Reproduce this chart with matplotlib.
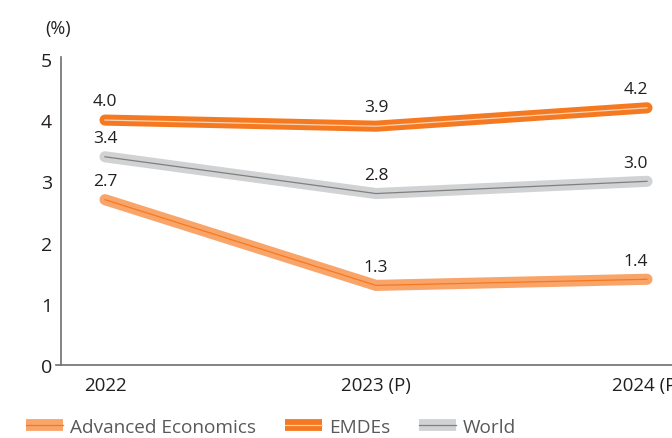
import matplotlib.pyplot as plt
from matplotlib.lines import Line2D
from matplotlib.legend_handler import HandlerTuple

plt.rcParams['font.family'] = ['Open Sans', 'DejaVu Sans']

years = ["2022", "2023 (P)", "2024 (P)"]
advanced = [2.7, 1.3, 1.4]
emdes = [4.0, 3.9, 4.2]
world = [3.4, 2.8, 3.0]

# (name, values, band colour, centre line colour)
series = [
    ("Advanced Economics", advanced, "#F9A56A", "#F47920"),
    ("EMDEs", emdes, "#F47920", "#FBD3B5"),
    ("World", world, "#D1D2D4", "#7F7F7F"),
]

fig = plt.figure(figsize=(6.72, 4.39), dpi=100)
# axes start a few px left of the y spine so the x axis pokes out past it
ax = fig.add_axes([56 / 672, 73 / 439, (672 - 56) / 672, 308 / 439])

x = list(range(len(years)))
handles = []
for name, vals, band, centre in series:
    ax.plot(x, vals, color=band, lw=8, solid_capstyle="round",
            solid_joinstyle="miter", zorder=2)
    ax.plot(x, vals, color=centre, lw=0.9, zorder=3)
    # legend proxies with square ends
    handles.append((Line2D([], [], color=band, lw=8.5, solid_capstyle="butt"),
                    Line2D([], [], color=centre, lw=0.9)))
    for xi, v in zip(x, vals):
        dx = -8 if xi == len(x) - 1 else 0
        ax.annotate(f"{v:.1f}", (xi, v), xytext=(dx, 13.5), textcoords="offset points",
                    ha="center", va="center", fontsize=12.5, color="#231F20")

# 1 data unit along x = 271 px
ax.set_xlim(-49 / 271, 2 + 25 / 271)
ax.set_ylim(0, 5.03)
ax.spines["left"].set_position(("data", -44 / 271))
ax.set_yticks([0, 1, 2, 3, 4, 5])
ax.set_xticks(x)
ax.set_xticklabels(years)
ax.tick_params(axis="x", length=0, pad=8, labelsize=13.5, labelcolor="#231F20")
ax.tick_params(axis="y", length=0, pad=6.5, labelsize=14, labelcolor="#231F20")
for s in ["top", "right"]:
    ax.spines[s].set_visible(False)
for s in ["left", "bottom"]:
    ax.spines[s].set_color("#6D6E71")
    ax.spines[s].set_linewidth(1.2)

fig.text(45 / 672, 1 - 29 / 439, "(%)", fontsize=13, color="#231F20", va="center")

fig.legend(handles, [s[0] for s in series], handler_map={tuple: HandlerTuple(ndivide=1)},
           loc="center left", bbox_to_anchor=(26 / 672, 11 / 439), ncol=3, frameon=False,
           fontsize=13.7, handlelength=1.95, columnspacing=1.5, handletextpad=0.37,
           borderpad=0, borderaxespad=0, labelcolor="#58595B")

fig.savefig("out.png", dpi=100)
